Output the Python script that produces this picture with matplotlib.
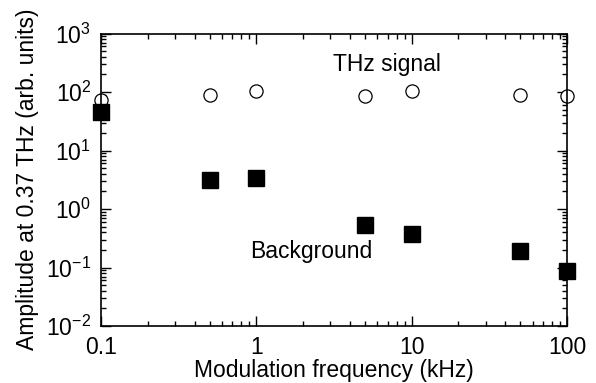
import matplotlib.pyplot as plt
import numpy as np

plt.rcParams["font.family"] = ["Liberation Sans", "DejaVu Sans"]
plt.rcParams["mathtext.default"] = "regular"

freq = [0.1, 0.5, 1, 5, 10, 50, 100]
thz_signal = [73, 89, 105, 84, 105, 89, 84]
background = [45, 3.1, 3.4, 0.53, 0.37, 0.19, 0.087]

fig = plt.figure(figsize=(5.96, 3.83), dpi=100)
ax = fig.add_axes([101 / 596, 1 - 326 / 383, 466 / 596, 292.5 / 383])

ax.plot(freq, thz_signal, "o", ms=9.5, mfc="white", mec="black", mew=0.9, clip_on=False)
ax.plot(freq, background, "s", ms=11, mfc="black", mec="black", clip_on=False)

ax.set_xscale("log")
ax.set_yscale("log")
ax.set_xlim(0.1, 100)
ax.set_ylim(1e-2, 1e3)
ax.set_xticks([0.1, 1, 10, 100])
ax.set_xticklabels(["0.1", "1", "10", "100"])
ax.set_yticks([1e-2, 1e-1, 1e0, 1e1, 1e2, 1e3])
ax.set_yticklabels([r"10$^{%d}$" % e for e in range(-2, 4)])

ax.tick_params(which="both", direction="in", top=True, right=True, labelsize=16.5, width=1)
ax.tick_params(which="major", length=7, pad=7)
ax.tick_params(which="minor", length=3.5)
ax.yaxis.set_minor_locator(plt.matplotlib.ticker.LogLocator(base=10, subs=np.arange(2, 10)))
ax.yaxis.set_minor_formatter(plt.NullFormatter())
for sp in ax.spines.values():
    sp.set_linewidth(1.2)

ax.set_xlabel("Modulation frequency (kHz)", fontsize=16.5, labelpad=0)
ax.set_ylabel("Amplitude at 0.37 THz (arb. units)", fontsize=16.5, labelpad=5)

ax.text(3.1, 290, "THz signal", fontsize=16.5, va="center")
ax.text(0.91, 0.19, "Background", fontsize=16.5, va="center")

fig.savefig("out.png", dpi=100)
